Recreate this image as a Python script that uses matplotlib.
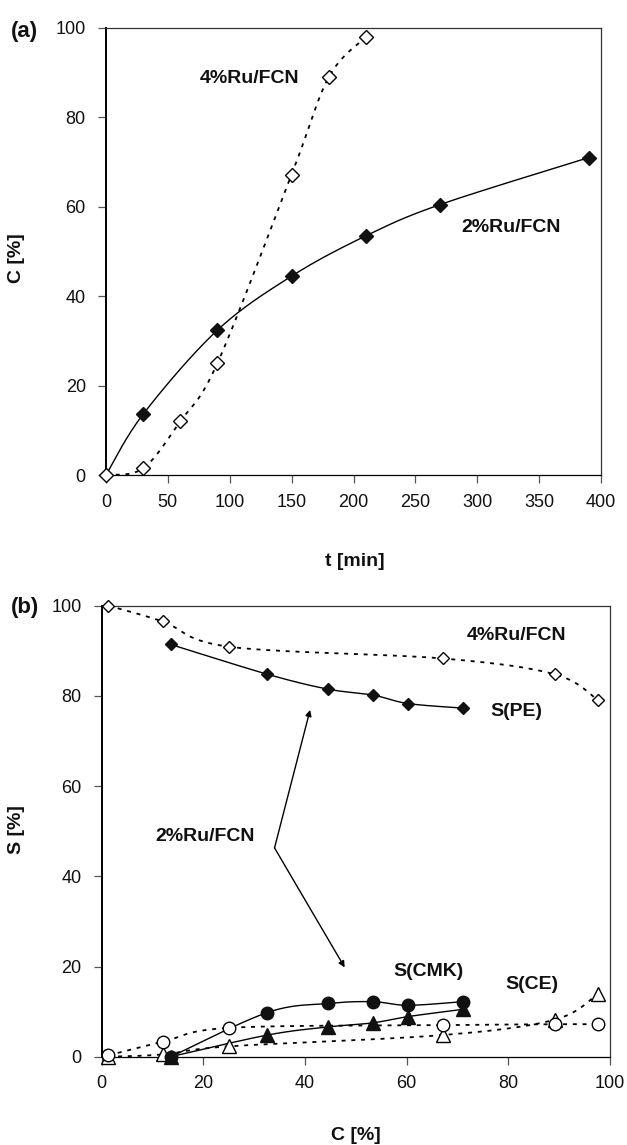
import numpy as np
import matplotlib
matplotlib.use("Agg")
import matplotlib.pyplot as plt

plt.rcParams['font.family'] = ['Liberation Sans', 'DejaVu Sans']

# ---------------- data: panel (a) ----------------
t_2 = [0, 30, 90, 150, 210, 270, 390]
c_2 = [0, 13.6, 32.4, 44.5, 53.5, 60.5, 71.0]
t_4 = [0, 30, 60, 90, 150, 180, 210]
c_4 = [0, 1.5, 12.0, 25.0, 67.2, 89.0, 98.0]

# ---------------- data: panel (b) ----------------
C_2 = [13.6, 32.6, 44.5, 53.3, 60.3, 71.0]
S_PE_2 = [91.4, 84.8, 81.5, 80.2, 78.3, 77.3]
S_CMK_2 = [0.0, 9.8, 11.8, 12.2, 11.4, 12.2]
S_CE_2 = [0.0, 4.8, 6.6, 7.5, 8.9, 10.5]

C_4 = [1.3, 12.0, 25.1, 67.1, 89.1, 97.7]
S_PE_4 = [100.0, 96.5, 90.9, 88.3, 84.8, 79.0]
S_CMK_4 = [0.3, 3.3, 6.4, 7.0, 7.2, 7.2]
S_CE_4 = [0.0, 0.5, 2.3, 4.8, 8.2, 14.0]

xticks_a = [0, 50, 100, 150, 200, 250, 300, 350, 400]
yticks = [0, 20, 40, 60, 80, 100]
xticks_b = [0, 20, 40, 60, 80, 100]


def smooth(x, y, n=30):
    """Excel-like smoothed line (cubic Bezier, control points from neighbours)."""
    x = np.asarray(x, float)
    y = np.asarray(y, float)
    P = np.column_stack([x, y])
    m = len(P)
    out = [P[0]]
    for i in range(m - 1):
        p0 = P[i - 1] if i > 0 else P[i]
        p1 = P[i]
        p2 = P[i + 1]
        p3 = P[i + 2] if i + 2 < m else P[i + 1]
        c1 = p1 + (p2 - p0) / 6.0
        c2 = p2 - (p3 - p1) / 6.0
        s = np.linspace(0, 1, n)[1:, None]
        seg = ((1 - s) ** 3) * p1 + 3 * ((1 - s) ** 2) * s * c1 + 3 * (1 - s) * s ** 2 * c2 + s ** 3 * p2
        out.extend(seg)
    out = np.array(out)
    return out[:, 0], out[:, 1]


W, H = 627, 1145
fig = plt.figure(figsize=(W / 100, H / 100), dpi=100)


def px_axes(l, r, t, b):
    return fig.add_axes([l / W, 1 - b / H, (r - l) / W, (b - t) / H])


DOT = (0, (2.2, 3.2))
tick_fs = 13
lab_fs = 14
TXT = '#111111'


def style(ax):
    for s in ax.spines.values():
        s.set_linewidth(0.9)
        s.set_color('#333333')
    ax.spines['left'].set_linewidth(1.4)
    ax.spines['left'].set_color('black')
    ax.spines['bottom'].set_color('black')
    ax.tick_params(direction='out', length=5.5, width=0.9, colors='#555555',
                   labelcolor=TXT, labelsize=tick_fs)
    ax.tick_params(axis='y', pad=9)
    ax.tick_params(axis='x', pad=8)


# ---------------- panel (a) ----------------
axa = px_axes(106, 601, 28, 475)
style(axa)
xs, ys = smooth(t_2, c_2)
axa.plot(xs, ys, color='black', lw=1.0, zorder=2)
xs, ys = smooth(t_4, c_4)
axa.plot(xs, ys, color='black', lw=1.3, linestyle=DOT, zorder=2)
axa.plot(t_2[1:], c_2[1:], linestyle='none', marker='D', ms=7.5,
         mfc='#111111', mec='#111111', zorder=3, clip_on=False)
axa.plot(t_4, c_4, linestyle='none', marker='D', ms=7.5,
         mfc='white', mec='black', mew=1.0, zorder=4, clip_on=False)
axa.set_xlim(0, 400)
axa.set_ylim(0, 100)
axa.set_xticks(xticks_a)
axa.set_yticks(yticks)
axa.text(116, 88.7, '4%Ru/FCN', fontsize=lab_fs, fontweight='bold', ha='center', va='center', color=TXT)
axa.text(327, 55.4, '2%Ru/FCN', fontsize=lab_fs, fontweight='bold', ha='center', va='center', color=TXT)
axa.set_xlabel('t [min]', fontsize=lab_fs, fontweight='bold', color=TXT)
axa.xaxis.set_label_coords(0.503, -0.175)
axa.set_ylabel('C [%]', fontsize=lab_fs, fontweight='bold', color=TXT)
axa.yaxis.set_label_coords(-0.164, 0.485)
fig.text(11 / W, 1 - 31 / H, '(a)', fontsize=16, fontweight='bold', ha='left', va='center', color=TXT)

# ---------------- panel (b) ----------------
axb = px_axes(101.7, 610, 605.7, 1056.7)
style(axb)
for yy in (S_PE_2, S_CMK_2, S_CE_2):
    xs, ys = smooth(C_2, yy)
    axb.plot(xs, ys, color='black', lw=1.0, zorder=2)
for yy in (S_PE_4, S_CMK_4, S_CE_4):
    xs, ys = smooth(C_4, yy)
    axb.plot(xs, ys, color='black', lw=1.3, linestyle=DOT, zorder=2)

axb.plot(C_4, S_CE_4, linestyle='none', marker='^', ms=9.5, mfc='white', mec='black', mew=1.0, zorder=3, clip_on=False)
axb.plot(C_4, S_CMK_4, linestyle='none', marker='o', ms=9, mfc='white', mec='black', mew=1.0, zorder=4, clip_on=False)
axb.plot(C_4, S_PE_4, linestyle='none', marker='D', ms=6.5, mfc='white', mec='black', mew=1.0, zorder=4, clip_on=False)
axb.plot(C_2, S_CE_2, linestyle='none', marker='^', ms=9.5, mfc='#111111', mec='#111111', zorder=5, clip_on=False)
axb.plot(C_2, S_CMK_2, linestyle='none', marker='o', ms=9, mfc='#111111', mec='#111111', zorder=5, clip_on=False)
axb.plot(C_2, S_PE_2, linestyle='none', marker='D', ms=6.5, mfc='#111111', mec='#111111', zorder=5, clip_on=False)

axb.set_xlim(0, 100)
axb.set_ylim(0, 100)
axb.set_xticks(xticks_b)
axb.set_yticks(yticks)

axb.text(81.7, 93.3, '4%Ru/FCN', fontsize=lab_fs, fontweight='bold', ha='center', va='center', color=TXT)
axb.text(81.6, 76.5, 'S(PE)', fontsize=lab_fs, fontweight='bold', ha='center', va='center', color=TXT)
axb.text(20.3, 48.9, '2%Ru/FCN', fontsize=lab_fs, fontweight='bold', ha='center', va='center', color=TXT)
axb.text(64.2, 19.0, 'S(CMK)', fontsize=lab_fs, fontweight='bold', ha='center', va='center', color=TXT)
axb.text(84.6, 15.9, 'S(CE)', fontsize=lab_fs, fontweight='bold', ha='center', va='center', color=TXT)

for tgt in [(41.0, 76.9), (47.8, 19.8)]:
    axb.annotate('', xy=tgt, xytext=(34.0, 46.3),
                 arrowprops=dict(arrowstyle='-|>', color='black', lw=1.0,
                                 mutation_scale=9, shrinkA=0, shrinkB=0))

axb.set_xlabel('C [%]', fontsize=lab_fs, fontweight='bold', color=TXT)
axb.xaxis.set_label_coords(0.5, -0.155)
axb.set_ylabel('S [%]', fontsize=lab_fs, fontweight='bold', color=TXT)
axb.yaxis.set_label_coords(-0.151, 0.503)
fig.text(11 / W, 1 - 607 / H, '(b)', fontsize=16, fontweight='bold', ha='left', va='center', color=TXT)

fig.savefig('out.png', dpi=100)
